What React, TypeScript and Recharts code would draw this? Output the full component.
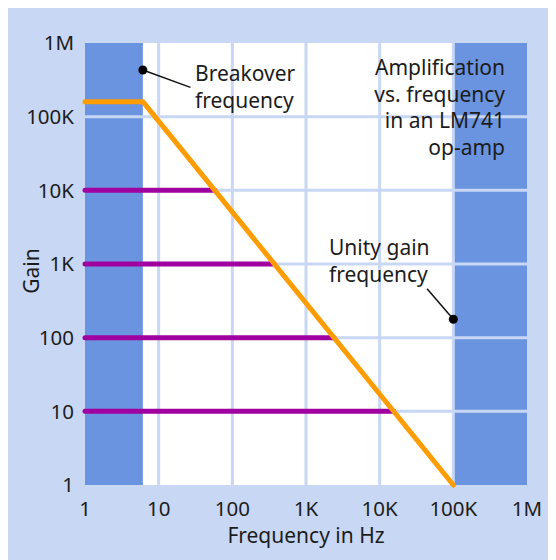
import React from "react";
import {
  ComposedChart,
  Line,
  XAxis,
  YAxis,
  ReferenceArea,
  ReferenceLine,
  ReferenceDot,
} from "recharts";

// ---- data ----
const decadeTicks = [1, 10, 100, 1000, 10000, 100000, 1000000];
const tickLabels = ["1", "10", "100", "1K", "10K", "100K", "1M"];
const innerGridTicks = [10, 100, 1000, 10000, 100000];

// open-loop gain of the LM741 (frequency Hz, gain)
const openLoopFreq = [1, 6.1, 100000];
const openLoopGain = [160000, 160000, 1];

// closed-loop gains and where each meets the open-loop curve
const closedLoopGains = [10000, 1000, 100, 10];
const closedLoopBandwidth = [58, 370, 2400, 15500];

// shaded regions (Hz)
const lowBand = [1, 6.1];
const highBand = [100000, 1000000];

// annotations: dot and leader-end in data coords
const breakoverDot = { f: 6.1, g: 430000 };
const breakoverLeader = { f: 27, g: 250000 };
const unityDot = { f: 100000, g: 178 };
const unityLeader = { f: 44000, g: 460 };

const openLoopData = openLoopFreq.map((f, i) => ({ f, g: openLoopGain[i] }));
const closedLoopData = closedLoopGains.map((g, i) => [
  { f: 1, g },
  { f: closedLoopBandwidth[i], g },
]);

const fmt = (v: number) => {
  const i = decadeTicks.indexOf(v);
  return i >= 0 ? tickLabels[i] : String(v);
};

const FONT = "'Noto Sans', sans-serif";
const BG = "#c8d7f4";
const BAND = "#6a93e0";
const GRID = "#c8d7f4";
const TEXT = "#1c1c1c";

export default function App() {
  const tickStyle = { fontSize: 20.5, fill: TEXT, fontFamily: FONT };
  const textStyle: React.CSSProperties = {
    position: "absolute",
    fontFamily: FONT,
    fontSize: 21,
    lineHeight: "26.7px",
    color: TEXT,
    whiteSpace: "nowrap",
  };
  return (
    <div
      style={{
        position: "relative",
        width: 548,
        height: 555,
        marginTop: -3,
        background: BG,
        fontFamily: FONT,
      }}
    >
      <ComposedChart
        width={548}
        height={555}
        margin={{ top: 38, right: 29, bottom: 0, left: 0 }}
      >
        <XAxis
          dataKey="f"
          type="number"
          scale="log"
          domain={[1, 1000000]}
          ticks={decadeTicks}
          tickFormatter={fmt}
          interval={0}
          axisLine={false}
          tickLine={false}
          tickMargin={10}
          height={75}
          tick={tickStyle}
        />
        <YAxis
          dataKey="g"
          type="number"
          scale="log"
          domain={[1, 1000000]}
          ticks={decadeTicks}
          tickFormatter={fmt}
          interval={0}
          axisLine={false}
          tickLine={false}
          tickMargin={5}
          width={77}
          tick={tickStyle}
        />
        <ReferenceArea
          x1={1}
          x2={1000000}
          y1={1}
          y2={1000000}
          fill="#ffffff"
          fillOpacity={1}
          stroke="none"
        />
        <ReferenceArea
          x1={lowBand[0]}
          x2={lowBand[1]}
          y1={1}
          y2={1000000}
          fill={BAND}
          fillOpacity={1}
          stroke="none"
        />
        <ReferenceArea
          x1={highBand[0]}
          x2={highBand[1]}
          y1={1}
          y2={1000000}
          fill={BAND}
          fillOpacity={1}
          stroke="none"
        />
        {innerGridTicks.map((t) => (
          <ReferenceLine key={"x" + t} x={t} stroke={GRID} strokeWidth={3} />
        ))}
        {innerGridTicks.map((t) => (
          <ReferenceLine key={"y" + t} y={t} stroke={GRID} strokeWidth={3} />
        ))}
        <ReferenceLine
          segment={[
            { x: breakoverDot.f, y: breakoverDot.g },
            { x: breakoverLeader.f, y: breakoverLeader.g },
          ]}
          stroke="#111"
          strokeWidth={1.5}
        />
        <ReferenceLine
          segment={[
            { x: unityDot.f, y: unityDot.g },
            { x: unityLeader.f, y: unityLeader.g },
          ]}
          stroke="#111"
          strokeWidth={1.5}
        />
        {closedLoopData.map((d, i) => (
          <Line
            key={"cl" + i}
            data={d}
            dataKey="g"
            stroke="#a000a0"
            strokeWidth={5}
            strokeLinecap="round"
            dot={false}
            activeDot={false}
            isAnimationActive={false}
          />
        ))}
        <Line
          data={openLoopData}
          dataKey="g"
          stroke="#ff9c00"
          strokeWidth={5}
          strokeLinecap="round"
          strokeLinejoin="round"
          dot={false}
          activeDot={false}
          isAnimationActive={false}
        />
        <ReferenceDot
          x={breakoverDot.f}
          y={breakoverDot.g}
          r={4.5}
          fill="#000"
          stroke="none"
        />
        <ReferenceDot
          x={unityDot.f}
          y={unityDot.g}
          r={4.5}
          fill="#000"
          stroke="none"
        />
      </ComposedChart>

      <div style={{ ...textStyle, left: 187, top: 55 }}>
        Breakover
        <br />
        frequency
      </div>
      <div style={{ ...textStyle, right: 51, top: 49, textAlign: "right" }}>
        Amplification
        <br />
        vs. frequency
        <br />
        in an LM741
        <br />
        op-amp
      </div>
      <div style={{ ...textStyle, left: 321, top: 229, lineHeight: "27px" }}>
        Unity gain
        <br />
        frequency
      </div>
      <div
        style={{
          ...textStyle,
          left: 298,
          top: 517,
          transform: "translateX(-50%)",
        }}
      >
        Frequency in Hz
      </div>
      <div
        style={{
          ...textStyle,
          left: 22.5,
          top: 266,
          transform: "translate(-50%, -50%) rotate(-90deg)",
        }}
      >
        Gain
      </div>
    </div>
  );
}
